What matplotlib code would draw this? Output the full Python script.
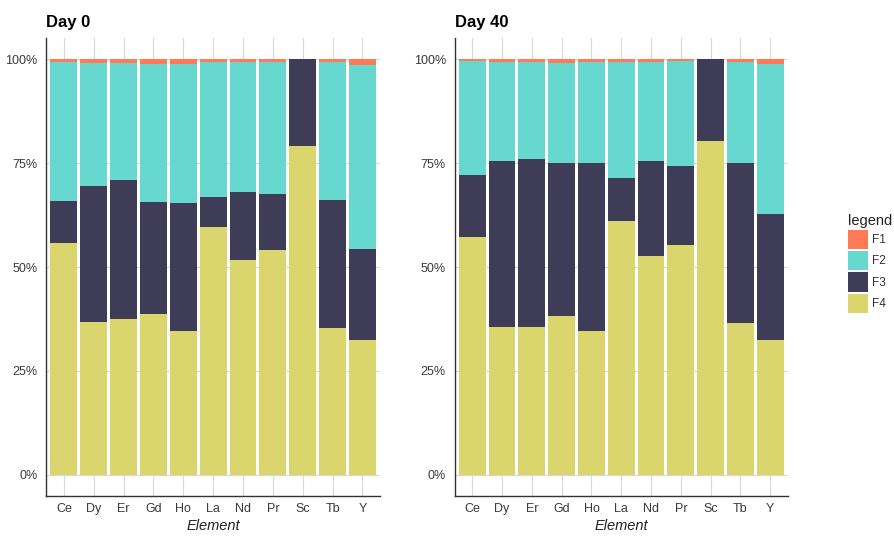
import numpy as np
import matplotlib
matplotlib.use("Agg")
import matplotlib.pyplot as plt
from matplotlib.patches import Patch
from matplotlib.ticker import FixedLocator, FuncFormatter

plt.rcParams["font.family"] = ["Liberation Sans", "DejaVu Sans"]

elements = ["Ce", "Dy", "Er", "Gd", "Ho", "La", "Nd", "Pr", "Sc", "Tb", "Y"]
fractions = ["F1", "F2", "F3", "F4"]

# Fraction shares (%) per element, Day 0
d0_F1 = [0.6, 0.9, 0.9, 1.15, 1.15, 0.8, 0.8, 0.6, 0.0, 0.8, 1.4]
d0_F2 = [33.5, 29.7, 28.1, 33.15, 33.35, 32.4, 31.1, 31.9, 0.0, 33.1, 44.2]
d0_F3 = [10.2, 32.7, 33.4, 26.9, 30.9, 7.1, 16.3, 13.5, 20.8, 30.7, 22.0]
d0_F4 = [55.7, 36.7, 37.6, 38.8, 34.6, 59.7, 51.8, 54.0, 79.2, 35.4, 32.4]

# Fraction shares (%) per element, Day 40
d40_F1 = [0.35, 0.6, 0.6, 0.9, 0.6, 0.6, 0.6, 0.35, 0.0, 0.6, 1.15]
d40_F2 = [27.45, 23.9, 23.5, 24.0, 24.5, 28.0, 23.9, 25.35, 0.0, 24.3, 36.05]
d40_F3 = [14.9, 40.0, 40.4, 36.8, 40.3, 10.3, 22.9, 19.0, 19.7, 38.6, 30.4]
d40_F4 = [57.3, 35.5, 35.5, 38.3, 34.6, 61.1, 52.6, 55.3, 80.3, 36.5, 32.4]

colors = {"F1": "#FF7A55", "F2": "#66D8D0", "F3": "#3F3C58", "F4": "#DBD56E"}

y_ticks = [0, 0.25, 0.5, 0.75, 1.0]

fig = plt.figure(figsize=(8.95, 5.36), dpi=100)
fig.patch.set_facecolor("white")


def draw_panel(ax, title, series):
    x = np.arange(len(elements))
    totals = np.sum([np.array(s, dtype=float) for s in series.values()], axis=0)
    bottom = np.zeros(len(elements))
    # stack F4 at the bottom, F1 on top
    for name in ["F4", "F3", "F2", "F1"]:
        vals = np.array(series[name], dtype=float) / totals
        ax.bar(x, vals, bottom=bottom, width=0.9, color=colors[name],
               linewidth=0, zorder=2)
        bottom += vals

    ax.set_xlim(-0.59, len(elements) - 1 + 0.59)
    ax.set_ylim(-0.05, 1.05)
    ax.xaxis.set_major_locator(FixedLocator(x))
    ax.set_xticklabels(elements)
    ax.yaxis.set_major_locator(FixedLocator(y_ticks))
    ax.yaxis.set_major_formatter(FuncFormatter(lambda v, p: f"{v * 100:.0f}%"))

    ax.grid(True, color="#D8D8D8", linewidth=0.8, zorder=0)
    ax.set_axisbelow(True)
    for side in ["top", "right"]:
        ax.spines[side].set_visible(False)
    for side in ["left", "bottom"]:
        ax.spines[side].set_color("#333333")
        ax.spines[side].set_linewidth(1.0)
    ax.tick_params(axis="both", length=0, labelsize=9, labelcolor="#3A3A3A")
    ax.tick_params(axis="y", pad=6.3)
    ax.tick_params(axis="x", pad=5.3)

    ax.set_xlabel("Element", fontsize=10.5, style="italic", color="#222222")
    ax.xaxis.set_label_coords(0.5, -0.05)
    ax.set_title(title, loc="left", fontsize=12, fontweight="bold",
                 color="black", pad=8)
    ax.title.set_position((-0.003, 1.0))


ax0 = fig.add_axes([0.0517, 0.0752, 0.3729, 0.8533])
draw_panel(ax0, "Day 0", {"F1": d0_F1, "F2": d0_F2, "F3": d0_F3, "F4": d0_F4})

ax1 = fig.add_axes([0.5080, 0.0752, 0.3723, 0.8533])
draw_panel(ax1, "Day 40", {"F1": d40_F1, "F2": d40_F2, "F3": d40_F3, "F4": d40_F4})

handles = [Patch(facecolor=colors[f], edgecolor="none", label=f) for f in fractions]
leg = fig.legend(handles=handles, loc="upper left",
                 bbox_to_anchor=(848 / 895, (536 - 214) / 536),
                 frameon=False, title="legend", alignment="left",
                 fontsize=8.5, title_fontsize=10.5,
                 handlelength=1.69, handleheight=2.12,
                 labelspacing=0.17, handletextpad=0.31,
                 borderpad=0, borderaxespad=0)
leg.get_title().set_color("#222222")
for t in leg.get_texts():
    t.set_color("#333333")

fig.savefig("out.png", dpi=100, facecolor="white")
